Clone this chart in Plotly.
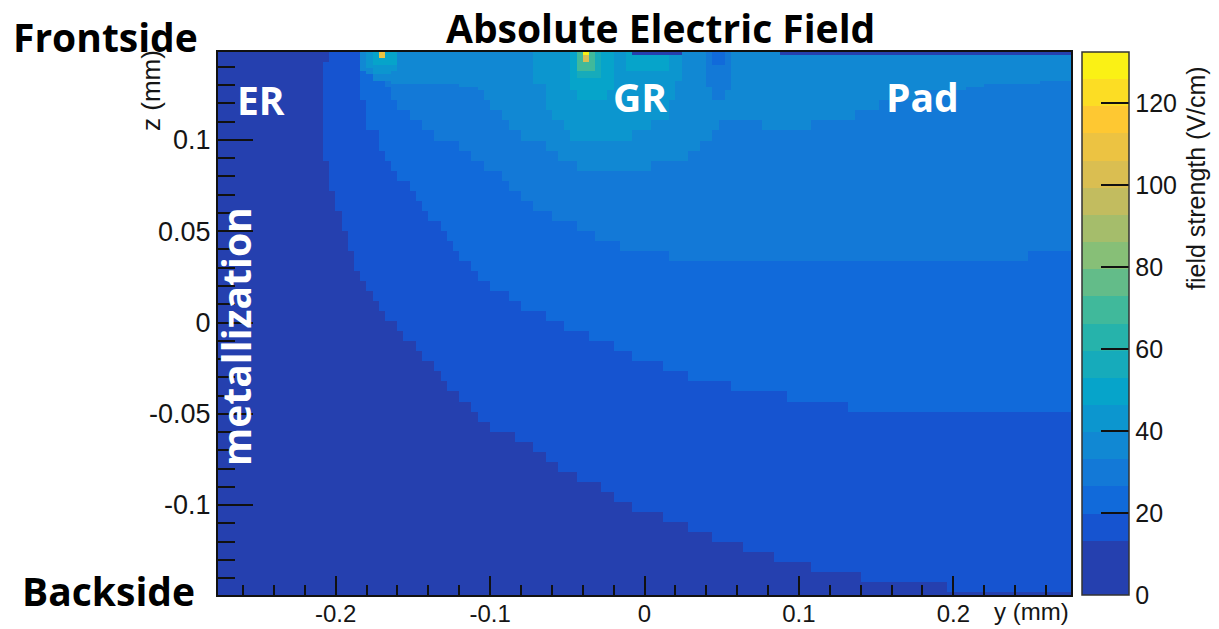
import numpy as np
import plotly.graph_objects as go

# ---------------- data (y, z in mm, field in V/cm) ----------------
Y_RANGE = [-0.2762, 0.2762]
Z_RANGE = [-0.1493, 0.1482]

COLORBAR_MAX = 132.5
COLORBAR_TICKS = [0, 20, 40, 60, 80, 100, 120]
X_TICKS = [-0.2, -0.1, 0, 0.1, 0.2]
X_TICK_TEXT = ["-0.2", "-0.1", "0", "0.1", "0.2"]
Z_TICKS = [-0.1, -0.05, 0, 0.05, 0.1]
Z_TICK_TEXT = ["-0.1", "-0.05", "0", "0.05", "0.1"]

# field level of each contour region (V/cm)
FIELD_LOW = 6.0
FIELD_L1 = 16.5
FIELD_L2 = 23.0
FIELD_L3 = 29.8
FIELD_L4 = 36.4
FIELD_L5 = 43.0
FIELD_L6 = 49.7
FIELD_L7 = 56.3
FIELD_L9 = 70.0
FIELD_CORE = 100.0
FIELD_HS1 = 110.0
FIELD_PEAK = 128.0

# contour boundaries; field above each boundary (towards frontside) is the given level
EDGE_13_Y = [-0.2036, -0.2036, -0.2087, -0.2087, -0.2055, -0.2023, -0.1971, -0.1932, -0.1880, -0.1828,
             -0.1744, -0.1667, -0.1595, -0.1531, -0.1401, -0.1285, -0.1142, -0.1000, -0.0735, -0.0560,
             -0.0307, -0.0094, 0.0249, 0.0599, 0.0942, 0.1285, 0.1544, 0.1958, 0.2236, 0.2800]
EDGE_13_Z = [0.1482, 0.1427, 0.1427, 0.0890, 0.0863, 0.0726, 0.0600, 0.0458, 0.0332, 0.0233,
             0.0134, 0.0041, -0.0041, -0.0090, -0.0205, -0.0337, -0.0452, -0.0567, -0.0677, -0.0786,
             -0.0896, -0.1000, -0.1110, -0.1219, -0.1318, -0.1373, -0.1422, -0.1449, -0.1477, -0.1477]

EDGE_20_Y = [-0.1861, -0.1861, -0.1828, -0.1803, -0.1738, -0.1706, -0.1634, -0.1511, -0.1421, -0.1337,
             -0.1246, -0.1175, -0.1091, -0.1000, -0.0909, -0.0825, -0.0735, -0.0560, -0.0469, -0.0314,
             -0.0223, -0.0049, 0.0217, 0.0372, 0.0728, 0.1117, 0.1537, 0.2800]
EDGE_20_Z = [0.1482, 0.1389, 0.1290, 0.1082, 0.1027, 0.0934, 0.0858, 0.0726, 0.0611, 0.0534,
             0.0458, 0.0342, 0.0266, 0.0211, 0.0156, 0.0118, 0.0058, 0.0003, -0.0052, -0.0090,
             -0.0129, -0.0205, -0.0266, -0.0321, -0.0375, -0.0436, -0.0490, -0.0501]

EDGE_26_Y = [-0.1722, -0.1704, -0.1634, -0.1528, -0.1387, -0.1246, -0.1105, -0.0929, -0.0824, -0.0648,
             -0.0366, -0.0295, -0.0067, 0.0180, 0.2487, 0.2504, 0.2800]
EDGE_26_Z = [0.1482, 0.1368, 0.1236, 0.1122, 0.1036, 0.0989, 0.0913, 0.0799, 0.0704, 0.0609,
             0.0496, 0.0448, 0.0397, 0.0363, 0.0363, 0.0391, 0.0391]

EDGE_33_Y = [-0.1828, -0.1828, -0.1744, -0.1615, -0.1421, -0.1071, -0.1000, -0.0825, -0.0650, -0.0560,
             -0.0469, -0.0294, -0.0068, 0.0023, 0.0197, 0.0269, 0.0359, 0.0443, 0.0515, 0.0586,
             0.0761, 0.0903, 0.1006, 0.1117, 0.1285, 0.1537, 0.1543, 0.2023, 0.2236, 0.2625, 0.2800]
EDGE_33_Z = [0.1482, 0.1384, 0.1329, 0.1312, 0.1312, 0.1290, 0.1197, 0.1038, 0.0978, 0.0923,
             0.0863, 0.0825, 0.0825, 0.0858, 0.0868, 0.0912, 0.0978, 0.1038, 0.1121, 0.1132,
             0.1082, 0.1055, 0.1055, 0.1093, 0.1126, 0.1164, 0.1219, 0.1274, 0.1301, 0.1318, 0.1318]

# guard-ring region (closed shapes hanging from the frontside)
GR_MID_Y = [-0.0728, -0.0728, -0.0657, -0.0657, -0.0560, -0.0483, -0.0288, -0.0094, 0.0016, 0.0146, 0.0210, 0.0230, 0.0243]
GR_MID_Z = [0.1482, 0.1312, 0.1312, 0.1203, 0.1110, 0.1016, 0.1000, 0.1011, 0.1071, 0.1137, 0.1274, 0.1367, 0.1482]
GR_INNER_Y = [-0.0483, -0.0483, -0.0430, -0.0340, -0.0236, -0.0191, -0.0191]
GR_INNER_Z = [0.1482, 0.1301, 0.1230, 0.1208, 0.1230, 0.1301, 0.1482]
GR_RING_Y = [-0.0450, -0.0450, -0.0288, -0.0288]
GR_RING_Z = [0.1482, 0.1345, 0.1345, 0.1482]
GR_HOT_Y = [-0.0430, -0.0430, -0.0307, -0.0307]
GR_HOT_Z = [0.1482, 0.1373, 0.1373, 0.1482]
GR_CORE_Y = [-0.0411, -0.0411, -0.0353, -0.0353]
GR_CORE_Z = [0.1482, 0.1433, 0.1433, 0.1482]
GR_PEAK_Y = [-0.0405, -0.0405, -0.0359, -0.0359]
GR_PEAK_Z = [0.1482, 0.1460, 0.1460, 0.1482]
GR_SIDE_Y = [-0.0139, -0.0139, 0.0146, 0.0146]
GR_SIDE_Z = [0.1482, 0.1384, 0.1384, 0.1482]

# hot spot at the edge-ring side
HS1_MID_Y = [-0.1796, -0.1796, -0.1740, -0.1640, -0.1583, -0.1583]
HS1_MID_Z = [0.1482, 0.1400, 0.1367, 0.1367, 0.1400, 0.1482]
HS1_INNER_Y = [-0.1751, -0.1751, -0.1621, -0.1621]
HS1_INNER_Z = [0.1482, 0.1411, 0.1411, 0.1482]
HS1_CORE_Y = [-0.1715, -0.1715, -0.1665, -0.1665]
HS1_CORE_Z = [0.1482, 0.1449, 0.1449, 0.1482]

# low-field pocket between guard ring and pad, and metal strips at the frontside
OVAL_Y = [0.0405, 0.0405, 0.0430, 0.0470, 0.0510, 0.0550, 0.0573, 0.0573]
OVAL_Z = [0.1482, 0.1350, 0.1260, 0.1203, 0.1203, 0.1260, 0.1350, 0.1482]
OVAL_SPOT_Y = [0.0456, 0.0456, 0.0534, 0.0534]
OVAL_SPOT_Z = [0.1482, 0.1411, 0.1411, 0.1482]
STRIP_GR_Y = [-0.0094, -0.0094, 0.0230, 0.0230]
STRIP_GR_Z = [0.1482, 0.1466, 0.1466, 0.1482]
STRIP_PAD_Y = [0.0864, 0.0864, 0.2800, 0.2800]
STRIP_PAD_Z = [0.1482, 0.1466, 0.1466, 0.1482]

REGIONS = [
    (EDGE_13_Y, EDGE_13_Z, FIELD_L1),
    (EDGE_20_Y, EDGE_20_Z, FIELD_L2),
    (EDGE_26_Y, EDGE_26_Z, FIELD_L3),
    (EDGE_33_Y, EDGE_33_Z, FIELD_L4),
    (GR_MID_Y, GR_MID_Z, FIELD_L5),
    (GR_INNER_Y, GR_INNER_Z, FIELD_L6),
    (GR_SIDE_Y, GR_SIDE_Z, FIELD_L6),
    (GR_RING_Y, GR_RING_Z, FIELD_L7),
    (GR_HOT_Y, GR_HOT_Z, FIELD_L9),
    (GR_CORE_Y, GR_CORE_Z, FIELD_CORE),
    (GR_PEAK_Y, GR_PEAK_Z, FIELD_PEAK),
    (HS1_MID_Y, HS1_MID_Z, FIELD_L5),
    (HS1_INNER_Y, HS1_INNER_Z, FIELD_L6),
    (HS1_CORE_Y, HS1_CORE_Z, FIELD_HS1),
    (OVAL_Y, OVAL_Z, FIELD_L3),
    (OVAL_SPOT_Y, OVAL_SPOT_Z, FIELD_L2),
    (STRIP_GR_Y, STRIP_GR_Z, FIELD_LOW),
    (STRIP_PAD_Y, STRIP_PAD_Z, FIELD_LOW),
]

# ---------------- histogram binning ----------------
y_edges = np.linspace(Y_RANGE[0], Y_RANGE[1], 139)
z_edges = np.concatenate([[Z_RANGE[0]],
                          -0.1478 + 0.0055 * np.arange(50),
                          0.1272 + 0.00175 * np.arange(13)])
yc = 0.5 * (y_edges[:-1] + y_edges[1:])
zc = 0.5 * (z_edges[:-1] + z_edges[1:])
YY, ZZ = np.meshgrid(yc, zc)


def inside(poly_y, poly_z, Y, Z):
    # region hangs from the frontside: close the outline above the top edge
    py = np.asarray(list(poly_y) + [poly_y[-1], poly_y[0]], float)
    pz = np.asarray(list(poly_z) + [0.2, 0.2], float)
    res = np.zeros(Y.shape, bool)
    j = len(py) - 1
    for i in range(len(py)):
        yi, zi, yj, zj = py[i], pz[i], py[j], pz[j]
        if zi != zj:
            cross = (yj - yi) * (Z - zi) / (zj - zi) + yi
            res ^= ((zi > Z) != (zj > Z)) & (Y < cross)
        j = i
    return res


field = np.full(YY.shape, FIELD_LOW)
for ry, rz, val in REGIONS:
    field[inside(ry, rz, YY, ZZ)] = val

# ---------------- ROOT kBird palette, 20 contour bands ----------------
stops = np.linspace(0, 1, 9)
R = [0.2082, 0.0592, 0.0780, 0.0232, 0.1802, 0.5301, 0.8186, 0.9956, 0.9764]
G = [0.1664, 0.3599, 0.5041, 0.6419, 0.7178, 0.7492, 0.7328, 0.7862, 0.9832]
B = [0.5293, 0.8684, 0.8385, 0.7914, 0.6425, 0.4662, 0.3499, 0.1968, 0.0539]
nb = 20
cols = []
for k in range(nb):
    t = (k + 0.5) / nb
    cols.append("rgb(%d,%d,%d)" % (round(255 * np.interp(t, stops, R)),
                                   round(255 * np.interp(t, stops, G)),
                                   round(255 * np.interp(t, stops, B))))
cols[0] = cols[1] = "rgb(37,64,175)"
cols[2] = "rgb(22,84,208)"
cscale = []
for k in range(nb):
    cscale.append([k / nb, cols[k]])
    cscale.append([(k + 1) / nb, cols[k]])

SANS = "Liberation Sans, Arial, sans-serif"

fig = go.Figure()
fig.add_trace(go.Heatmap(
    x=y_edges, y=z_edges, z=field,
    colorscale=cscale, zmin=0, zmax=COLORBAR_MAX,
    hoverinfo="skip",
    colorbar=dict(
        x=(1082 - 218) / 853, xanchor="left", xpad=0,
        y=0.5, yanchor="middle", len=1, lenmode="fraction", ypad=0,
        thickness=47, outlinewidth=1.5, outlinecolor="#333",
        tickvals=COLORBAR_TICKS, ticktext=[str(v) for v in COLORBAR_TICKS],
        ticks="inside", ticklen=28, tickwidth=2, tickcolor="#111",
        tickfont=dict(family=SANS, size=25, color="#151515"),
    ),
))

fig.update_layout(
    width=1219, height=629,
    margin=dict(l=218, r=148, t=52, b=34, autoexpand=False),
    paper_bgcolor="white", plot_bgcolor="white",
    showlegend=False,
    xaxis=dict(range=Y_RANGE, tickvals=X_TICKS, ticktext=X_TICK_TEXT,
               ticks="inside", ticklen=19, tickwidth=2, tickcolor="#111",
               minor=dict(ticks="inside", ticklen=10, tickwidth=2, tickcolor="#111", dtick=0.02, tick0=0),
               showline=True, linecolor="#111", linewidth=2, mirror=True,
               showgrid=False, zeroline=False, ticklabelstandoff=-4,
               tickfont=dict(family=SANS, size=24, color="#151515")),
    yaxis=dict(range=Z_RANGE, tickvals=Z_TICKS, ticktext=Z_TICK_TEXT,
               ticks="inside", ticklen=35, tickwidth=2, tickcolor="#111",
               minor=dict(ticks="inside", ticklen=17, tickwidth=2, tickcolor="#111", dtick=0.01, tick0=0),
               showline=True, linecolor="#111", linewidth=2, mirror=True,
               showgrid=False, zeroline=False,
               tickfont=dict(family=SANS, size=27, color="#151515")),
)


def px2paper(px, py):
    return (px - 218) / 853, (595 - py) / 543


BOLD = "Open Sans, Noto Sans, sans-serif"
labels = [
    ("<b>Absolute Electric Field</b>", 660, 28, "black", 0),
    ("<b>Frontside</b>", 105, 37, "black", 0),
    ("<b>Backside</b>", 108, 590, "black", 0),
    ("<b>ER</b>", 261, 99, "white", 0),
    ("<b>GR</b>", 640, 96, "white", 0),
    ("<b>Pad</b>", 922, 96, "white", 0),
    ("<b>metallization</b>", 235, 337, "white", -90),
]
for text, px, py, col, ang in labels:
    xp, yp = px2paper(px, py)
    fig.add_annotation(text=text, x=xp, y=yp, xref="paper", yref="paper",
                       showarrow=False, textangle=ang, xanchor="center", yanchor="middle",
                       font=dict(family=BOLD, size=39, color=col))

xp, yp = px2paper(151, 91)
fig.add_annotation(text="z (mm)", x=xp, y=yp, xref="paper", yref="paper", showarrow=False,
                   textangle=-90, xanchor="center", yanchor="middle",
                   font=dict(family=SANS, size=26, color="#151515"))
xp, yp = px2paper(1071, 611)
fig.add_annotation(text="y (mm)", x=xp, y=yp, xref="paper", yref="paper", showarrow=False,
                   xanchor="right", yanchor="middle",
                   font=dict(family=SANS, size=24, color="#151515"))
xp, yp = px2paper(1196, 178)
fig.add_annotation(text="field strength (V/cm)", x=xp, y=yp, xref="paper", yref="paper", showarrow=False,
                   textangle=-90, xanchor="center", yanchor="middle",
                   font=dict(family=SANS, size=25, color="#151515"))

fig.write_html("out.html")
